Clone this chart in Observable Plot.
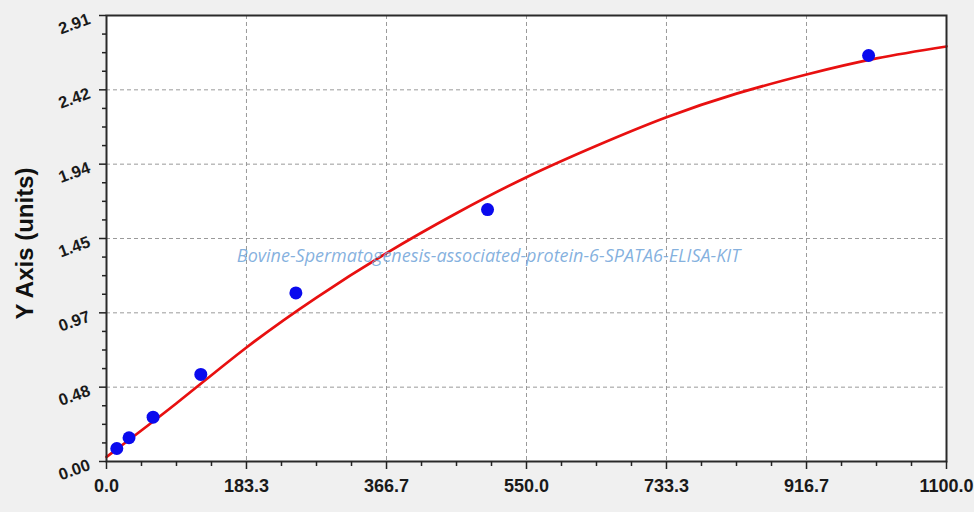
<!DOCTYPE html>
<html>
<head>
<meta charset="utf-8">
<script src="https://cdn.jsdelivr.net/npm/d3@7"></script>
<script src="https://cdn.jsdelivr.net/npm/@observablehq/plot@0.6"></script>
<style>
  html, body { margin: 0; padding: 0; background: #f0f0f0; }
  #chart { width: 974px; height: 512px; }
  svg { font-family: "Liberation Sans", Arial, sans-serif; }
</style>
</head>
<body>
<div id="chart"></div>
<script>
// Standard points (concentration, OD)
const stdX = [13.5, 29.5, 61, 123.5, 248, 499, 998];
const stdY = [0.085, 0.155, 0.289, 0.568, 1.10, 1.644, 2.649];

// Fitted curve
const curveX = [0, 91.7, 183.3, 275, 366.7, 458.3, 550, 641.7, 733.3, 825, 916.7, 1008.3, 1100];
const curveY = [0.03, 0.38, 0.744, 1.07, 1.36, 1.62, 1.855, 2.06, 2.246, 2.40, 2.525, 2.63, 2.708];

// Axis ticks
const xTicks = [0, 183.3, 366.7, 550, 733.3, 916.7, 1100];
const xTickLabels = ["0.0", "183.3", "366.7", "550.0", "733.3", "916.7", "1100.0"];
const yTicks = [0, 0.485, 0.97, 1.455, 1.94, 2.425, 2.91];
const yTickLabels = ["0.00", "0.48", "0.97", "1.45", "1.94", "2.42", "2.91"];

const yTitle = "Y Axis (units)";
const watermark = "Bovine-Spermatogenesis-associated-protein-6-SPATA6-ELISA-KIT";

const stdData = stdX.map((x, i) => ({x, y: stdY[i]}));
const curveData = curveX.map((x, i) => ({x, y: curveY[i]}));

function minors(ticks) {
  const out = [];
  for (let i = 0; i < ticks.length - 1; i++) {
    const a = ticks[i], b = ticks[i + 1];
    for (let k = 1; k < 4; k++) out.push(a + (b - a) * k / 4);
  }
  return out;
}
const xMinor = minors(xTicks);
const yMinor = minors(yTicks);
const xGrid = xTicks.slice(1, -1);
const yGrid = yTicks.slice(1, -1);

const chart = Plot.plot({
  width: 974,
  height: 512,
  marginLeft: 106,
  marginRight: 28,
  marginTop: 15,
  marginBottom: 51,
  style: { background: "transparent", overflow: "visible" },
  x: { type: "linear", domain: [0, 1100], axis: null },
  y: { type: "linear", domain: [0, 2.91], axis: null },
  marks: [
    Plot.frame({ fill: "white", stroke: "none" }),
    Plot.ruleX(xGrid, { stroke: "#9a9a9a", strokeDasharray: "4,3", strokeWidth: 1 }),
    Plot.ruleY(yGrid, { stroke: "#9a9a9a", strokeDasharray: "4,3", strokeWidth: 1 }),
    Plot.line(curveData, { x: "x", y: "y", stroke: "#e81010", strokeWidth: 2.7, curve: "natural" }),
    Plot.dot(stdData, { x: "x", y: "y", r: 6.5, fill: "#0a0aee", stroke: "none" }),
    Plot.text([watermark], { frameAnchor: "middle", dx: -38, dy: 18, text: d => d,
      fill: "#6fa3d9", fillOpacity: 0.85, fontSize: 18, fontStyle: "italic",
      fontFamily: "Open Sans, sans-serif" }),
    Plot.frame({ stroke: "#2a2a2a", strokeWidth: 2 }),
    // ticks
    Plot.axisY({ ticks: yTicks, tickFormat: () => "", tickSize: 7, stroke: "#222", strokeWidth: 1.5, label: null }),
    Plot.axisY({ ticks: yMinor, tickFormat: () => "", tickSize: 4, stroke: "#222", strokeWidth: 1.5, label: null }),
    Plot.axisX({ ticks: xTicks, tickFormat: () => "", tickSize: 8, stroke: "#222", strokeWidth: 1.5, label: null }),
    Plot.axisX({ ticks: xMinor, tickFormat: () => "", tickSize: 5, stroke: "#222", strokeWidth: 1.5, label: null }),
    // tick labels
    Plot.text(yTicks, { x: 0, y: d => d, text: (d, i) => yTickLabels[i], dx: -17, dy: 3,
      rotate: -20, textAnchor: "end", fontSize: 16.5, fontWeight: "bold", fill: "#1a1a1a" }),
    Plot.text(xTicks, { x: d => d, y: 0, text: (d, i) => xTickLabels[i], dy: 25,
      textAnchor: "middle", fontSize: 18, fontWeight: "bold", fill: "#1a1a1a" }),
    Plot.text([yTitle], { frameAnchor: "left", dx: -81, dy: 5, rotate: -90, text: d => d,
      fontSize: 24, fontWeight: "bold", fill: "#111", textAnchor: "middle" })
  ]
});
document.getElementById("chart").appendChild(chart);
</script>
</body>
</html>
